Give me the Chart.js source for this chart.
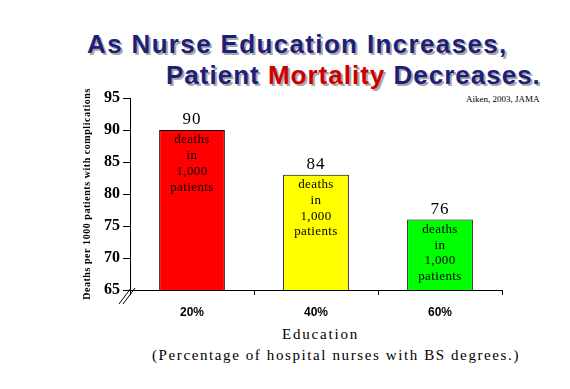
<!DOCTYPE html>
<html><head><meta charset="utf-8">
<script src="https://cdn.jsdelivr.net/npm/chart.js@4"></script>
<style>
html,body{margin:0;padding:0;background:#fff;width:570px;height:389px;overflow:hidden;position:relative}
#wrap{position:absolute;left:0;top:0;width:570px;height:389px}
.t{position:absolute;font-family:"Liberation Sans",Arial,sans-serif;font-weight:bold;color:#1F1F7A;text-shadow:2px 2px 0 #A8A8A8;white-space:nowrap;font-size:26px;letter-spacing:1.35px}
.red{color:#CC0000}
.s{position:absolute;font-family:"Liberation Serif","Times New Roman",serif;white-space:nowrap;color:#000}
</style></head>
<body>
<div class="t" id="t1" style="left:87px;top:29px">As Nurse Education Increases,</div>
<div class="t" id="t2" style="left:166px;top:60px;letter-spacing:1.0px">Patient <span class="red">Mortality</span> Decreases.</div>
<div class="s" style="left:466px;top:94px;font-size:9px">Aiken, 2003, JAMA</div>
<div class="s" style="left:282px;top:326px;font-size:15px;letter-spacing:1.8px">Education</div>
<div class="s" style="left:152px;top:347px;font-size:15px;letter-spacing:1.6px">(Percentage of hospital nurses with BS degrees.)</div>
<div id="wrap"><canvas id="c" width="570" height="389"></canvas></div>
<script>
const categories = ["20%", "40%", "60%"];
const deaths = [90, 83, 76];
const valueLabels = ["90", "84", "76"];
const barColors = ["#FF0000", "#FFFF00", "#00FF00"];
const innerLines = ["deaths", "in", "1,000", "patients"];
const yTitle = "Deaths per 1000 patients with complications";

const textPlugin = {
  id: 'texts',
  afterDatasetsDraw(chart) {
    const ctx = chart.ctx;
    const meta = chart.getDatasetMeta(0);
    ctx.save();
    ctx.fillStyle = '#000';
    ctx.textAlign = 'center';
    ctx.textBaseline = 'middle';
    meta.data.forEach((bar, i) => {
      ctx.font = '17px "Liberation Serif", serif';
      ctx.letterSpacing = '1px';
      ctx.fillText(valueLabels[i], bar.x, bar.y - 10);
      ctx.font = '13px "Liberation Serif", serif';
      ctx.letterSpacing = '0.4px';
      innerLines.forEach((l, j) => ctx.fillText(l, bar.x, bar.y + 10 + j * 15.7));
    });
    // y axis title
    ctx.translate(87, 194);
    ctx.rotate(-Math.PI / 2);
    ctx.font = 'bold 10px "Liberation Serif", serif';
    ctx.letterSpacing = '0.55px';
    ctx.fillText(yTitle, 0, 0);
    ctx.restore();
    // axis break
    ctx.save();
    ctx.strokeStyle = '#000';
    ctx.lineWidth = 1;
    ctx.beginPath();
    ctx.moveTo(119, 304); ctx.lineTo(131, 288);
    ctx.moveTo(123, 304); ctx.lineTo(135, 288);
    ctx.stroke();
    ctx.restore();
  }
};

new Chart(document.getElementById('c'), {
  type: 'bar',
  data: {
    labels: categories,
    datasets: [{
      data: deaths,
      backgroundColor: barColors,
      borderColor: '#000',
      borderWidth: 1,
      barPercentage: 0.53,
      categoryPercentage: 1
    }]
  },
  options: {
    responsive: false,
    animation: false,
    plugins: { legend: { display: false }, tooltip: { enabled: false } },
    layout: { padding: { left: 0, right: 68, top: 98, bottom: 69 } },
    scales: {
      x: {
        afterFit(s) { s.height = 30; },
        border: { color: '#000', width: 1 },
        grid: { offset: true, drawOnChartArea: false, drawTicks: true, tickLength: 5, color: '#000' },
        ticks: { color: '#000', font: { family: '"Liberation Sans", Arial, sans-serif', size: 12, weight: 'bold' }, padding: 10 }
      },
      y: {
        min: 65, max: 95,
        afterFit(s) { s.width = 130; },
        border: { color: '#000', width: 1 },
        grid: { drawOnChartArea: false, drawTicks: true, tickLength: 7, color: '#000' },
        ticks: { stepSize: 5, color: '#000', font: { family: '"Liberation Serif", serif', size: 16, weight: 'bold' }, padding: 3 }
      }
    }
  },
  plugins: [textPlugin]
});
</script>
</body></html>
